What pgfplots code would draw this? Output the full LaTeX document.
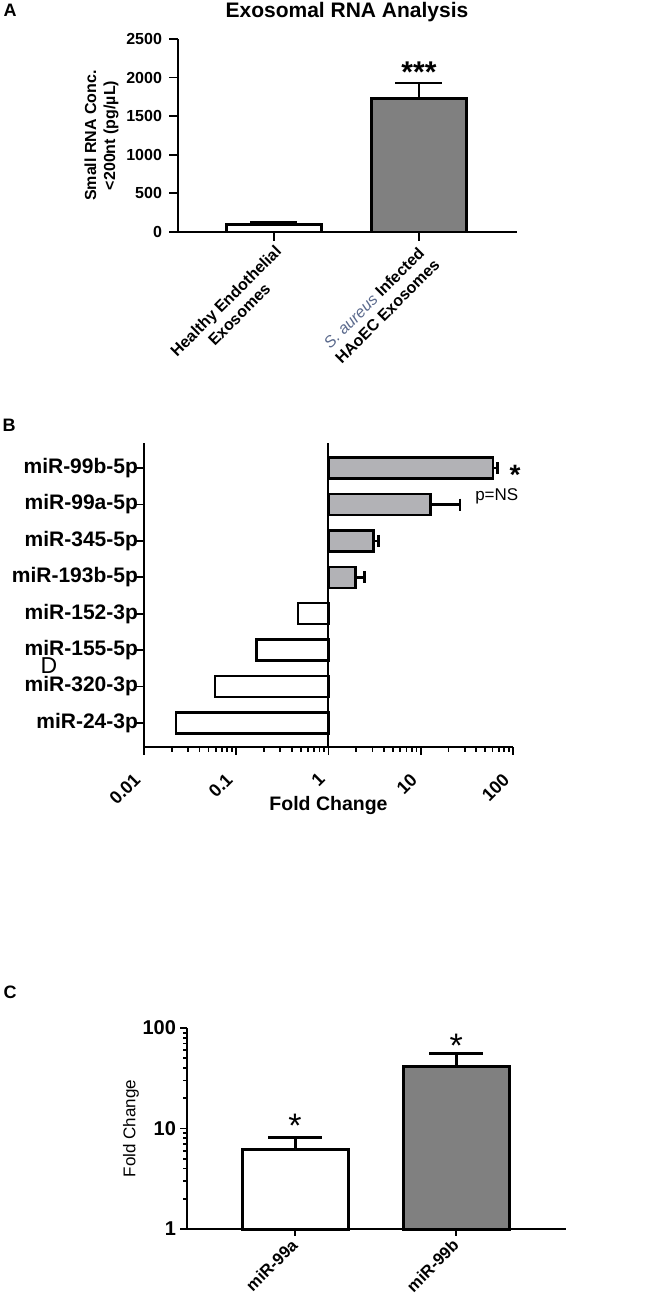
\documentclass[border=0pt]{standalone}
\usepackage{fontspec}
\setmainfont{Liberation Sans}
\usepackage{pgfplots}
\pgfplotsset{compat=1.18}
\definecolor{darkbar}{RGB}{128,128,128}
\definecolor{lightbar}{RGB}{178,178,182}
\definecolor{aureus}{RGB}{90,105,140}
\pgfplotsset{
  common/.style={
    scale only axis, anchor=south west, clip=false,
    axis x line*=bottom, axis y line*=left,
    axis line style={line width=1pt,-},
    every tick/.style={line width=0.9pt, black},
    tick align=outside,
    /pgf/number format/assume math mode=true,
    /pgf/number format/1000 sep={},
  }
}
\begin{document}
\begin{tikzpicture}
\useasboundingbox (0,0) rectangle (322pt,648.5pt);
% panel letters and free text
\node[font=\bfseries\fontsize{9}{10}\selectfont] at (5pt,643.5pt) {A};
\node[font=\bfseries\fontsize{9}{10}\selectfont] at (4.5pt,436pt) {B};
\node[font=\bfseries\fontsize{9}{10}\selectfont] at (5pt,152.5pt) {C};
\node[font=\bfseries\fontsize{10.5}{12}\selectfont] at (173.5pt,642.5pt) {Exosomal RNA Analysis};
\node[font=\fontsize{11.5}{13}\selectfont] at (24.5pt,315.5pt) {D};

% ---------------- Panel A ----------------
\begin{axis}[common,
  at={(89pt,532.5pt)}, width=169.5pt, height=96.5pt,
  xmin=-0.662, xmax=1.676, ymin=0, ymax=2500,
  major tick length=4.5pt,
  xtick={0,1},
  xticklabels={{Healthy Endothelial\\Exosomes},{{\mdseries\itshape\color{aureus}S. aureus} Infected\\HAoEC Exosomes}},
  xticklabel style={rotate=45, anchor=north east, align=center, font=\bfseries\fontsize{8}{9.5}\selectfont, inner sep=1pt},
  ytick={0,500,1000,1500,2000,2500},
  yticklabel style={font=\bfseries\fontsize{8}{9.5}\selectfont},
  ylabel={Small RNA Conc.\\<200nt (pg/µL)},
  ylabel style={align=center, font=\bfseries\fontsize{8}{9.5}\selectfont},
  ylabel shift=-3pt,
]
\addplot[ybar, bar width=47.5pt, bar shift=0pt, fill=white, draw=black, line width=1.4pt,
  error bars/.cd, y dir=plus, y explicit, error bar style={line width=1.4pt},
  error mark options={rotate=90, line width=1.4pt, mark size=11.75pt}]
  coordinates {(0,95) +- (0,35)};
\addplot[ybar, bar width=47.5pt, bar shift=0pt, fill=darkbar, draw=black, line width=1.4pt,
  error bars/.cd, y dir=plus, y explicit, error bar style={line width=1.4pt},
  error mark options={rotate=90, line width=1.4pt, mark size=11.75pt}]
  coordinates {(1,1730) +- (0,200)};
\node[anchor=base, font=\bfseries\fontsize{15}{17}\selectfont] at (axis cs:1,1930) {***};
\end{axis}

% ---------------- Panel B ----------------
\begin{axis}[common,
  at={(72pt,275pt)}, width=184.5pt, height=152pt,
  xmode=log, xmin=0.01, xmax=100, ymin=-0.66, ymax=7.69,
  major tick length=4pt, minor tick length=2.5pt,
  xtick={0.01,0.1,1,10,100}, xticklabels={0.01,0.1,1,10,100},
  minor xtick={0.02,0.03,0.04,0.05,0.06,0.07,0.08,0.09,0.2,0.3,0.4,0.5,0.6,0.7,0.8,0.9,2,3,4,5,6,7,8,9,20,30,40,50,60,70,80,90},
  xticklabel style={rotate=45, anchor=north east, font=\bfseries\fontsize{9}{10}\selectfont, xshift=-6.5pt, yshift=1.5pt},
  ytick={0,1,2,3,4,5,6,7},
  yticklabels={miR-24-3p,miR-320-3p,miR-155-5p,miR-152-3p,miR-193b-5p,miR-345-5p,miR-99a-5p,miR-99b-5p},
  yticklabel style={font=\bfseries\fontsize{10.5}{12}\selectfont, xshift=4.5pt},
  xlabel={Fold Change},
  xlabel style={font=\bfseries\fontsize{9.75}{11}\selectfont, at={(axis description cs:0.5,-0.192)}, anchor=center},
]
\addplot[black, line width=1pt, no marks] coordinates {(1,-0.66) (1,7.69)};
\addplot[xbar, bar width=10.5pt, bar shift=0pt, fill=white, draw=black, line width=1.2pt]
  coordinates {(0.0223,0) (0.0587,1) (0.166,2) (0.47,3)};
\addplot[xbar, bar width=10.5pt, bar shift=0pt, fill=lightbar, draw=black, line width=1.2pt,
  error bars/.cd, x dir=plus, x explicit, error bar style={line width=1.2pt},
  error mark options={rotate=90, line width=1.2pt, mark size=3pt}]
  coordinates {(1.96,4) +- (0.5,0) (3.08,5) +- (0.42,0) (12.7,6) +- (13.8,0) (61,7) +- (7,0)};
\node[anchor=base, font=\bfseries\fontsize{14}{16}\selectfont] at (axis cs:105,6.56) {*};
\node[anchor=base west, inner sep=0pt, font=\fontsize{8.5}{10}\selectfont] at (axis cs:38.6,6.10) {p=NS};
\end{axis}

% ---------------- Panel C ----------------
\begin{axis}[common,
  at={(93.5pt,34pt)}, width=189.5pt, height=100.5pt,
  ymode=log, ymin=1, ymax=100, xmin=-0.67, xmax=1.68,
  major tick length=3.5pt, minor tick length=2pt,
  ytick={1,10,100}, yticklabels={1,10,100},
  minor ytick={2,3,4,5,6,7,8,9,20,30,40,50,60,70,80,90},
  xtick={0,1}, xticklabels={miR-99a,miR-99b},
  xticklabel style={rotate=45, anchor=north east, font=\bfseries\fontsize{8.3}{10}\selectfont, xshift=1pt, yshift=4.5pt},
  yticklabel style={font=\bfseries\fontsize{10}{12}\selectfont, xshift=1.5pt},
  ylabel={Fold Change}, ylabel style={font=\fontsize{8.5}{10}\selectfont},
  ylabel shift=-5pt,
]
\addplot[ybar, bar width=53pt, bar shift=0pt, fill=white, draw=black, line width=1.5pt,
  error bars/.cd, y dir=plus, y explicit, error bar style={line width=1.5pt},
  error mark options={rotate=90, line width=1.5pt, mark size=13.5pt}]
  coordinates {(0,6.2) +- (0,2.0)};
\addplot[ybar, bar width=53pt, bar shift=0pt, fill=darkbar, draw=black, line width=1.5pt,
  error bars/.cd, y dir=plus, y explicit, error bar style={line width=1.5pt},
  error mark options={rotate=90, line width=1.5pt, mark size=13.5pt}]
  coordinates {(1,41.6) +- (0,14)};
\node[anchor=base, font=\fontsize{17}{19}\selectfont] at (axis cs:0,8.1) {*};
\node[anchor=base, font=\fontsize{17}{19}\selectfont] at (axis cs:1,51) {*};
\end{axis}
\end{tikzpicture}
\end{document}
